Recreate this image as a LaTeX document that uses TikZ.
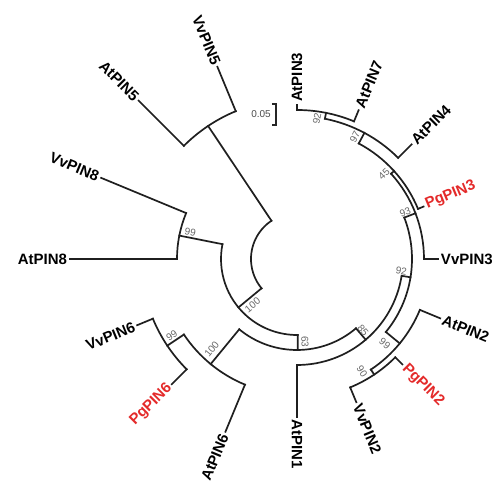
\documentclass[tikz,border=0pt]{standalone}
\usepackage{fontspec}
\setmainfont{Liberation Sans}
\definecolor{pgred}{RGB}{228,42,42}
\definecolor{bootgray}{RGB}{105,105,105}
\tikzset{
  branch/.style={line width=1.7pt, draw=black!88, line cap=rect},
  leaf/.style={inner sep=0pt, outer sep=3pt, font=\fontsize{15}{18}\selectfont\bfseries},
  boot/.style={inner sep=0pt, text=bootgray, font=\fontsize{10}{12}\selectfont},
}
\newcommand\inode[4]{\coordinate (#1b) at (#2:#3pt); \coordinate (#1) at (#2:#4pt); \draw[branch] (#1b) -- (#1);}
\newcommand\leafR[5]{\coordinate (#1b) at (#2:#3pt); \coordinate (#1e) at (#2:#4pt); \draw[branch] (#1b) -- (#1e); \node[leaf,text=#5,rotate=#2,anchor=west] (#1) at (#1e) {#1};}
\newcommand\leafL[5]{\coordinate (#1b) at (#2:#3pt); \coordinate (#1e) at (#2:#4pt); \draw[branch] (#1b) -- (#1e); \node[leaf,text=#5,rotate=#2-180,anchor=east] (#1) at (#1e) {#1};}
\newcommand\cladearc[4]{\draw[branch] (#1) arc[start angle=#2, end angle=#3, radius=#4pt];}
\begin{document}
\begin{tikzpicture}
\fill[white] (-297pt,-230pt) rectangle (207pt,259pt);
\useasboundingbox (-297pt,-230pt) rectangle (207pt,259pt);
% internal nodes
\inode{A}{123.75}{46}{160}
\inode{B}{219.6}{46}{76}
\inode{C}{168.75}{76}{120}
\inode{D}{270.5}{76}{91}
\inode{M}{230.6}{91}{136}
\inode{N}{213.75}{136}{156}
\inode{E}{-49.6}{91}{106}
\inode{F}{-9.15}{106}{115}
\inode{H}{-39.4}{115}{133}
\inode{L}{-56.25}{133}{139}
\inode{G}{21.1}{115}{127}
\inode{I}{42.19}{127}{131}
\inode{J}{61.875}{131}{143}
\inode{K}{78.75}{143}{149}
% leaves
\leafL{VvPIN5}{112.5}{160}{208}{black}
\leafL{AtPIN5}{135}{160}{224}{black}
\leafL{VvPIN8}{157.5}{120}{212}{black}
\leafL{AtPIN8}{180}{120}{227}{black}
\leafL{VvPIN6}{202.5}{156}{173}{black}
\leafL{PgPIN6}{225}{156}{177}{pgred}
\leafL{AtPIN6}{247.5}{136}{187}{black}
\leafR{AtPIN1}{-90}{106}{158}{black}
\leafR{VvPIN2}{-67.5}{139}{155}{black}
\leafR{PgPIN2}{-45}{139}{149}{pgred}
\leafR{AtPIN2}{-22.5}{133}{155}{black}
\leafR{VvPIN3}{0}{127}{141}{black}
\leafR{PgPIN3}{22.5}{131}{137}{pgred}
\leafR{AtPIN4}{45}{143}{162}{black}
\leafR{AtPIN7}{67.5}{149}{161}{black}
\leafR{AtPIN3}{90}{149}{154}{black}
% clade arcs
\cladearc{Ab}{123.75}{219.6}{46}
\cladearc{VvPIN5b}{112.5}{135}{160}
\cladearc{Cb}{168.75}{270.5}{76}
\cladearc{VvPIN8b}{157.5}{180}{120}
\cladearc{Mb}{230.6}{310.4}{91}
\cladearc{Nb}{213.75}{247.5}{136}
\cladearc{VvPIN6b}{202.5}{225}{156}
\cladearc{AtPIN1b}{-90}{-9.15}{106}
\cladearc{Hb}{-39.4}{21.1}{115}
\cladearc{Lb}{-56.25}{-22.5}{133}
\cladearc{VvPIN2b}{-67.5}{-45}{139}
\cladearc{VvPIN3b}{0}{42.19}{127}
\cladearc{PgPIN3b}{22.5}{61.875}{131}
\cladearc{AtPIN4b}{45}{78.75}{143}
\cladearc{AtPIN7b}{67.5}{90}{149}
% bootstrap values
\node[boot,rotate=-11.25] (bsC) at (166:110pt) {99};
\node[boot,rotate=39.6] (bsB) at (226:64pt) {100};
\node[boot,rotate=-89.5] (bsD) at (275.5:83pt) {63};
\node[boot,rotate=-49.6] (bsE) at (312.9:97pt) {85};
\node[boot,rotate=50.6] (bsM) at (226.6:124pt) {100};
\node[boot,rotate=33.75] (bsN) at (211.6:147pt) {99};
\node[boot,rotate=-9.15] (bsF) at (353.4:105pt) {92};
\node[boot,rotate=21.1] (bsG) at (23.5:118pt) {93};
\node[boot,rotate=42.19] (bsI) at (44.3:121.6pt) {45};
\node[boot,rotate=61.875] (bsJ) at (64.6:135pt) {97};
\node[boot,rotate=78.75] (bsK) at (81.9:142pt) {92};
\node[boot,rotate=-39.4] (bsH) at (316:122pt) {99};
\node[boot,rotate=-56.25] (bsL) at (300:130pt) {90};
% scale bar
\coordinate (sbT) at (-21pt,155pt);
\coordinate (sbB) at (-21pt,134pt);
\draw[line width=1.4pt, draw=black!85] ([xshift=-4pt]sbT) -- (sbT) -- (sbB) -- ([xshift=-4pt]sbB);
\node[boot, anchor=east, text=black!70] (sbl) at (-26pt,144.5pt) {0.05};
\end{tikzpicture}
\end{document}
